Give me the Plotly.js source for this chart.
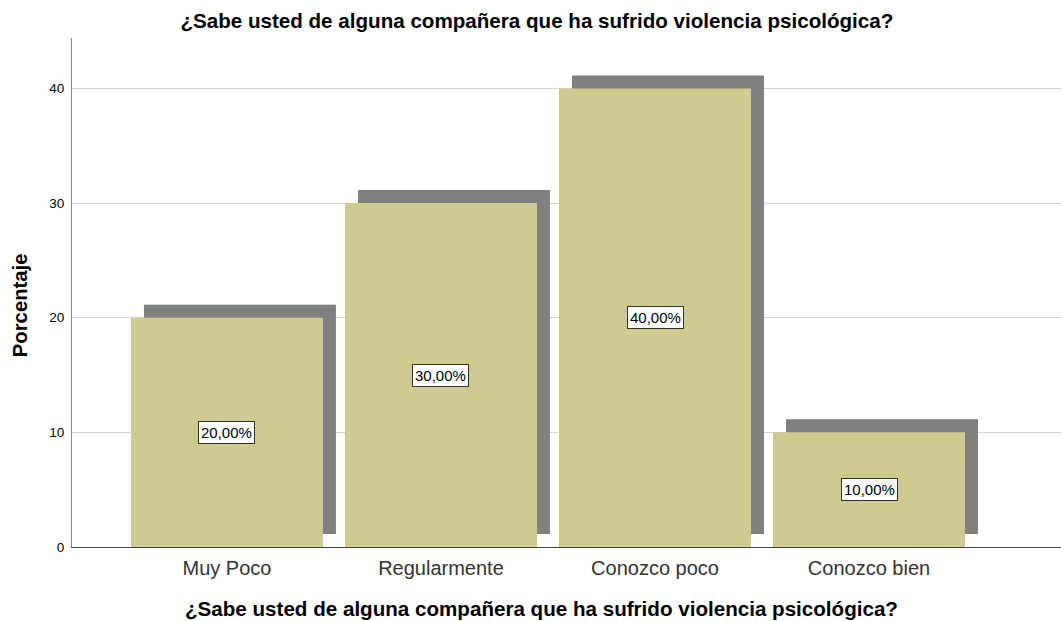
<!DOCTYPE html>
<html>
<head>
<meta charset="utf-8">
<script src="https://cdn.plot.ly/plotly-3.0.1.min.js"></script>
<style>html,body{margin:0;padding:0;background:#fff;}#chart{width:1061px;height:621px;}</style>
</head>
<body>
<div id="chart"></div>
<script>
const categories = ["Muy Poco", "Regularmente", "Conozco poco", "Conozco bien"];
const percentages = [20, 30, 40, 10];
const labels = ["20,00%", "30,00%", "40,00%", "10,00%"];
const titleText = "¿Sabe usted de alguna compañera que ha sufrido violencia psicológica?";
const yTitleText = "Porcentaje";

const barWidth = 0.897;
const shadowDx = 0.0607;
const shadowDy = 1.133;

const shadow = {
  type: "bar",
  x: categories,
  y: percentages,
  base: percentages.map(() => shadowDy),
  width: barWidth,
  offset: -barWidth / 2 + shadowDx,
  marker: { color: "#808080", line: { width: 0 } },
  hoverinfo: "skip",
  showlegend: false
};
const main = {
  type: "bar",
  x: categories,
  y: percentages,
  width: barWidth,
  offset: -barWidth / 2,
  marker: { color: "#cfca8f", line: { width: 0 } },
  showlegend: false
};

const fontFam = "Liberation Sans, Arial, sans-serif";
const annotations = categories.map((c, i) => ({
  x: c, y: percentages[i] / 2, xref: "x", yref: "y",
  text: labels[i], showarrow: false,
  font: { family: fontFam, size: 15, color: "#000" },
  bgcolor: "#ffffff", bordercolor: "#333333", borderwidth: 1, borderpad: 2
}));
annotations.push({
  x: -0.0526, y: 0.475, xref: "paper", yref: "paper",
  text: "<b>" + yTitleText + "</b>", showarrow: false, textangle: -90,
  xanchor: "center", yanchor: "middle",
  font: { family: fontFam, size: 20.3, color: "#000" }
});
annotations.push({
  x: 0.475, y: -0.1218, xref: "paper", yref: "paper",
  text: "<b>" + titleText + "</b>", showarrow: false,
  xanchor: "center", yanchor: "middle",
  font: { family: fontFam, size: 20.6, color: "#000" }
});

const layout = {
  width: 1061, height: 621,
  margin: { l: 72, r: 0, t: 38, b: 74 },
  paper_bgcolor: "#fff", plot_bgcolor: "#fff",
  barmode: "overlay",
  font: { family: fontFam, color: "#000" },
  title: {
    text: "<b>" + titleText + "</b>",
    font: { size: 20.6, color: "#000" },
    x: 0.506, xanchor: "center", y: 0.966, yanchor: "middle"
  },
  xaxis: {
    type: "category",
    range: [-0.724, 3.897],
    showgrid: false, zeroline: false,
    showline: true, linecolor: "#444", linewidth: 1,
    ticks: "outside", ticklen: 3, tickcolor: "rgba(0,0,0,0)",
    tickfont: { size: 20, color: "#333" }
  },
  yaxis: {
    range: [0, 44.4],
    tickvals: [0, 10, 20, 30, 40],
    showgrid: true, gridcolor: "#d4d4d4", gridwidth: 1,
    zeroline: false, showline: true, linecolor: "#888", linewidth: 1,
    ticks: "outside", ticklen: 4, tickcolor: "rgba(0,0,0,0)",
    tickfont: { size: 13.5, color: "#000" }
  },
  annotations: annotations
};

Plotly.newPlot("chart", [shadow, main], layout, { displayModeBar: false, staticPlot: true });
</script>
</body>
</html>
